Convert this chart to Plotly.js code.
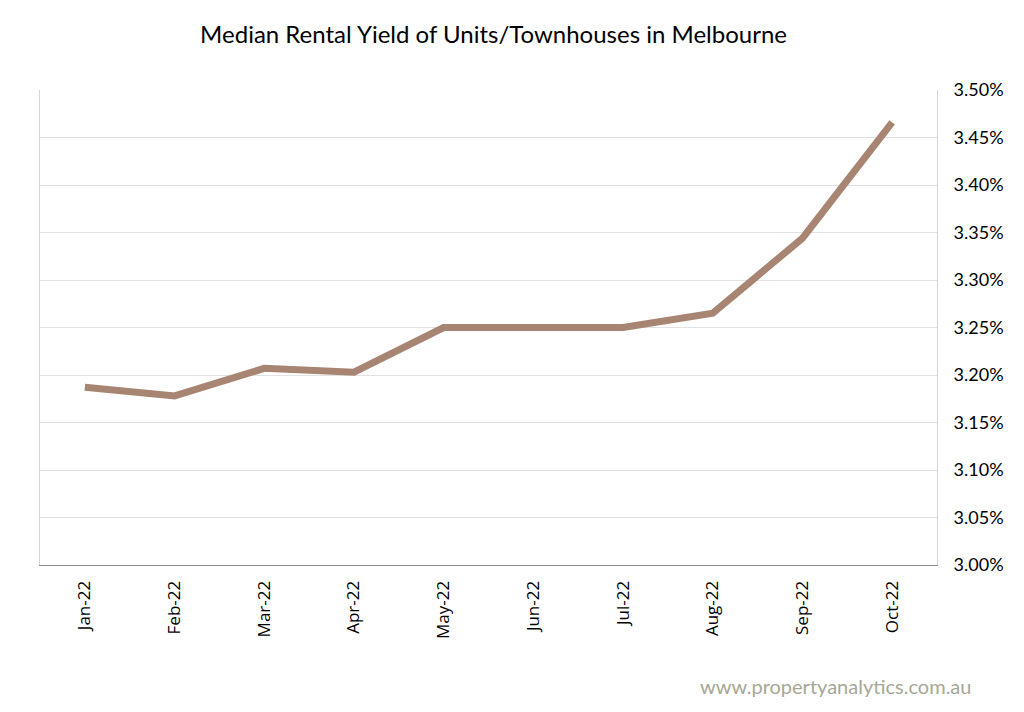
<!DOCTYPE html>
<html>
<head>
<meta charset="utf-8">
<script src="https://cdn.plot.ly/plotly-3.0.1.min.js"></script>
<style>
  html, body { margin: 0; padding: 0; background: #fff; }
  #chart { width: 1024px; height: 712px; }
</style>
</head>
<body>
<div id="chart"></div>
<script>
"use strict";

// Monthly median rental yield (%), units/townhouses, Melbourne
var months = ["Jan-22", "Feb-22", "Mar-22", "Apr-22", "May-22",
              "Jun-22", "Jul-22", "Aug-22", "Sep-22", "Oct-22"];
var yieldPct = [3.187, 3.178, 3.207, 3.203, 3.250,
                3.250, 3.250, 3.265, 3.344, 3.466];
var yTicks = [3.00, 3.05, 3.10, 3.15, 3.20, 3.25, 3.30, 3.35, 3.40, 3.45, 3.50];
var yTickText = yTicks.map(function (v) { return v.toFixed(2) + "%"; });

var font = "Lato, 'Open Sans', sans-serif";

var series = [{
  x: months,
  y: yieldPct,
  type: "scatter",
  mode: "lines",
  line: {color: "#a88572", width: 7},
  hoverinfo: "x+y",
  showlegend: false
}];

var layout = {
  width: 1024, height: 712,
  margin: {l: 40, r: 87, t: 90, b: 147},
  paper_bgcolor: "#fff",
  plot_bgcolor: "#fff",
  title: {
    text: "Median Rental Yield of Units/Townhouses in Melbourne",
    font: {family: font, size: 24, color: "#000"},
    x: 0.482, xanchor: "center", y: 0.951, yanchor: "middle"
  },
  xaxis: {
    type: "category",
    range: [-0.5, 9.5],
    tickangle: -90,
    tickfont: {family: "'Open Sans', sans-serif", size: 17, color: "#000"},
    ticklabelstandoff: 8,
    showgrid: false,
    showline: true, linecolor: "#8c8c8c", linewidth: 1,
    ticks: "", ticklen: 0,
    zeroline: false
  },
  yaxis: {
    side: "right",
    range: [3.0, 3.5],
    tickvals: yTicks,
    ticktext: yTickText,
    tickfont: {family: font, size: 18, color: "#000"},
    showgrid: true, gridcolor: "#e2e2e2", gridwidth: 1,
    showline: true, mirror: true, linecolor: "#d4d4d4", linewidth: 1,
    ticks: "outside", ticklen: 12, tickcolor: "rgba(0,0,0,0)",
    zeroline: false
  },
  annotations: [{
    text: "www.propertyanalytics.com.au",
    xref: "paper", yref: "paper",
    x: 1.04, y: -0.255, xanchor: "right", yanchor: "middle",
    showarrow: false,
    font: {family: font, size: 20, color: "#a7a795"}
  }]
};

Plotly.newPlot("chart", series, layout, {staticPlot: true});
</script>
</body>
</html>
